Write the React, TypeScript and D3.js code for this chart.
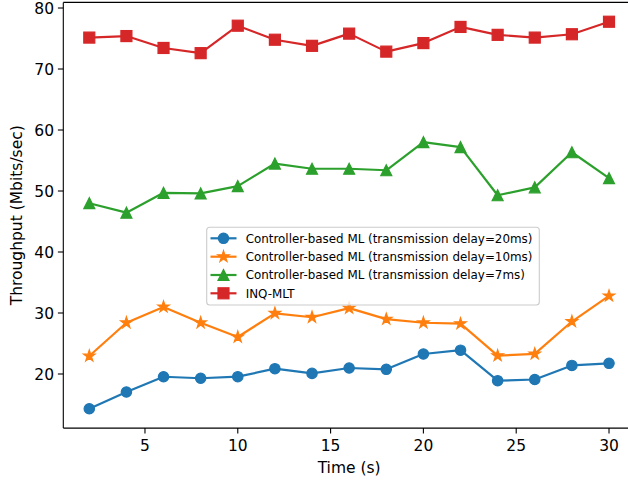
import React from "react";
import * as d3 from "d3";

// Sampling times (s)
const times = [2, 4, 6, 8, 10, 12, 14, 16, 18, 20, 22, 24, 26, 28, 30];

// Throughput series (Mbits/sec)
const delay20 = [14.3, 17.05, 19.55, 19.3, 19.56, 20.87, 20.1, 20.98, 20.77, 23.28, 23.9, 18.9, 19.1, 21.4, 21.75];
const delay10 = [22.95, 28.4, 31.0, 28.4, 26.07, 29.95, 29.3, 30.8, 29.0, 28.4, 28.25, 23.0, 23.3, 28.6, 32.8];
const delay7 = [48.0, 46.45, 49.7, 49.6, 50.8, 54.5, 53.65, 53.65, 53.4, 58.0, 57.2, 49.3, 50.6, 56.35, 52.1];
const inqMlt = [75.15, 75.4, 73.45, 72.6, 77.1, 74.8, 73.8, 75.8, 72.85, 74.25, 76.9, 75.6, 75.15, 75.7, 77.75];

const seriesLabels = [
  "Controller-based ML (transmission delay=20ms)",
  "Controller-based ML (transmission delay=10ms)",
  "Controller-based ML (transmission delay=7ms)",
  "INQ-MLT",
];
const seriesColors = ["#1f77b4", "#ff7f0e", "#2ca02c", "#d62728"];
const seriesMarkers = ["circle", "star", "triangle", "square"];
const seriesValues = [delay20, delay10, delay7, inqMlt];

const xTicks = [5, 10, 15, 20, 25, 30];
const yTicks = [20, 30, 40, 50, 60, 70, 80];

const W = 628;
const H = 480;
const FONT = "DejaVu Sans, sans-serif";

function starPath(R: number) {
  const r = R * 0.381966;
  const pts: string[] = [];
  for (let i = 0; i < 10; i++) {
    const a = -Math.PI / 2 + (i * Math.PI) / 5;
    const rad = i % 2 === 0 ? R : r;
    pts.push(`${(Math.cos(a) * rad).toFixed(2)},${(Math.sin(a) * rad).toFixed(2)}`);
  }
  return "M" + pts.join("L") + "Z";
}

function Marker({ kind, x, y, color }: { kind: string; x: number; y: number; color: string }) {
  const common = { fill: color, stroke: color, strokeWidth: 1.2 } as const;
  if (kind === "circle") return <circle cx={x} cy={y} r={5.2} {...common} />;
  if (kind === "square") return <rect x={x - 5.5} y={y - 5.5} width={11} height={11} {...common} />;
  if (kind === "triangle") {
    const s = 5.5;
    return <path d={`M${x},${y - s}L${x - s},${y + s}L${x + s},${y + s}Z`} {...common} />;
  }
  return <path d={starPath(6)} transform={`translate(${x},${y})`} {...common} />;
}

export default function App() {
  const x = d3.scaleLinear().domain([0.6, 31.4]).range([63.3, 635]);
  const y = d3.scaleLinear().domain([11.13, 80.92]).range([428.1, 2.4]);
  const left = x.range()[0];
  const right = x.range()[1];
  const top = y.range()[1];
  const bottom = y.range()[0];

  const line = d3
    .line<number>()
    .x((_, i) => x(times[i]))
    .y((v) => y(v));

  const legendX = 206.7;
  const legendY = 227.3;
  const legendW = 332.6;
  const legendH = 77.7;
  const rowY = [238.3, 256.7, 275.0, 293.3];

  return (
    <svg
      width={W}
      height={H}
      style={{ position: "absolute", left: 0, top: 0, background: "#fff" }}
      fontFamily={FONT}
    >
      <rect x={0} y={0} width={W} height={H} fill="#fff" />

      {/* series */}
      {seriesValues.map((vals, si) => (
        <g key={si}>
          <path d={line(vals) || ""} fill="none" stroke={seriesColors[si]} strokeWidth={2.2} strokeLinejoin="round" />
          {vals.map((v, i) => (
            <Marker key={i} kind={seriesMarkers[si]} x={x(times[i])} y={y(v)} color={seriesColors[si]} />
          ))}
        </g>
      ))}

      {/* spines */}
      <line x1={left} x2={left} y1={top} y2={bottom} stroke="#000" strokeWidth={1.1} />
      <line x1={left} x2={right} y1={bottom} y2={bottom} stroke="#000" strokeWidth={1.1} />
      <line x1={left} x2={right} y1={top} y2={top} stroke="#000" strokeWidth={1.1} />
      <line x1={right} x2={right} y1={top} y2={bottom} stroke="#000" strokeWidth={1.1} />

      {/* x axis */}
      {xTicks.map((t) => (
        <g key={t}>
          <line x1={x(t)} x2={x(t)} y1={bottom} y2={bottom + 5.4} stroke="#000" strokeWidth={1.1} />
          <text x={x(t)} y={450.8} textAnchor="middle" fontSize={15.5} fill="#000">
            {t}
          </text>
        </g>
      ))}
      <text x={(left + right) / 2} y={473} textAnchor="middle" fontSize={15.5} fill="#000">
        Time (s)
      </text>

      {/* y axis */}
      {yTicks.map((t) => (
        <g key={t}>
          <line x1={left - 5.4} x2={left} y1={y(t)} y2={y(t)} stroke="#000" strokeWidth={1.1} />
          <text x={54} y={y(t)} dy="0.36em" textAnchor="end" fontSize={15.5} fill="#000">
            {t}
          </text>
        </g>
      ))}
      <text
        transform={`translate(22,${(top + bottom) / 2}) rotate(-90)`}
        textAnchor="middle"
        fontSize={15.5}
        fill="#000"
      >
        Throughput (Mbits/sec)
      </text>

      {/* legend */}
      <rect
        x={legendX}
        y={legendY}
        width={legendW}
        height={legendH}
        rx={3}
        fill="#fff"
        fillOpacity={0.8}
        stroke="#cccccc"
        strokeWidth={1.1}
      />
      {seriesLabels.map((lab, i) => (
        <g key={lab}>
          <line x1={210.5} x2={236.5} y1={rowY[i]} y2={rowY[i]} stroke={seriesColors[i]} strokeWidth={2.2} />
          <Marker kind={seriesMarkers[i]} x={223.5} y={rowY[i]} color={seriesColors[i]} />
          <text x={245.7} y={rowY[i]} dy="0.36em" fontSize={11.9} fill="#000">
            {lab}
          </text>
        </g>
      ))}
    </svg>
  );
}
